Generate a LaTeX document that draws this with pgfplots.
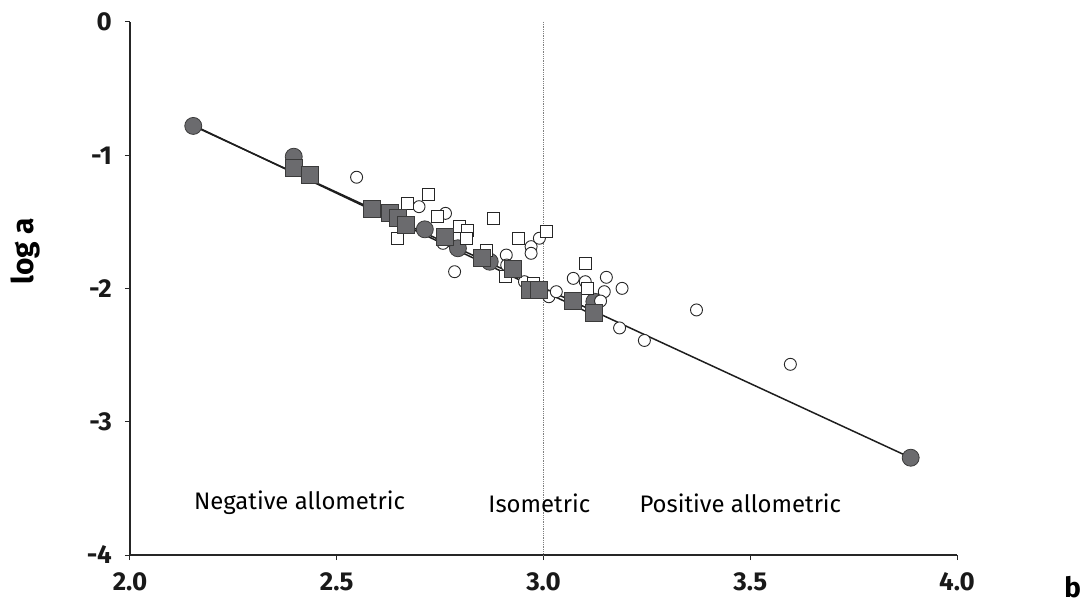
\documentclass[border=0pt]{standalone}
\usepackage{pgfplots}
\pgfplotsset{compat=1.18}
\usepackage{fontspec}
\setmainfont{Fira Sans}
\definecolor{markgray}{HTML}{6B6B6E}
\definecolor{edgegray}{HTML}{3A3A3A}
\definecolor{fitline}{HTML}{1E1E1E}

\begin{document}
\begin{tikzpicture}
\begin{axis}[
  name=ax,
  width=827bp, height=533bp, scale only axis,
  xmin=2, xmax=4, ymin=-4, ymax=0,
  axis x line=bottom, axis y line=left,
  x axis line style={-}, y axis line style={-},
  axis line style={black!85, line width=1.1pt},
  xtick={2,2.5,3,3.5,4}, xticklabels={2.0,2.5,3.0,3.5,4.0},
  ytick={-4,-3,-2,-1,0}, yticklabels={-4,-3,-2,-1,0},
  tick align=outside, major tick length=5bp,
  tick style={black!85, line width=1pt},
  ticklabel style={font=\bfseries\fontsize{26}{26}\selectfont, text=black!90, inner sep=0pt},
  xticklabel style={yshift=-12bp}, yticklabel style={xshift=-13bp},
  clip=false,
]
% isometric reference b = 3
\addplot[gray, densely dotted, line width=0.8pt] coordinates {(3,0) (3,-4)};

% filled circles
\addplot[only marks, mark=*, mark size=8.5bp,
  mark options={fill=markgray, draw=edgegray, line width=0.8pt}] coordinates {
  (2.153,-0.780) (2.396,-1.011) (2.713,-1.556) (2.793,-1.698)
  (2.870,-1.799) (3.123,-2.099) (3.888,-3.270)
};

% open circles
\addplot[only marks, mark=*, mark size=6bp,
  mark options={fill=white, draw=black!85, line width=0.9pt}] coordinates {
  (2.548,-1.165) (2.699,-1.386) (2.763,-1.436) (2.757,-1.661)
  (2.785,-1.874) (2.910,-1.749) (2.911,-1.824) (2.970,-1.686)
  (2.970,-1.736) (2.990,-1.623) (2.954,-1.949) (3.013,-2.062)
  (3.031,-2.024) (3.072,-1.924) (3.101,-1.949) (3.152,-1.916)
  (3.147,-2.024) (3.190,-1.999) (3.138,-2.094) (3.184,-2.296)
  (3.244,-2.390) (3.370,-2.161) (3.597,-2.569)
};

% open squares
\addplot[only marks, mark=square*, mark size=6bp,
  mark options={fill=white, draw=black!85, line width=0.9pt}] coordinates {
  (2.670,-1.361) (2.721,-1.291) (2.646,-1.628) (2.744,-1.461)
  (2.797,-1.536) (2.817,-1.561) (2.813,-1.623) (2.879,-1.478)
  (2.863,-1.716) (2.908,-1.906) (2.940,-1.623) (3.007,-1.574)
  (2.976,-1.961) (3.101,-1.811) (3.107,-1.999)
};

% filled squares
\addplot[only marks, mark=square*, mark size=8.5bp,
  mark options={fill=markgray, draw=edgegray, line width=0.8pt}] coordinates {
  (2.396,-1.098) (2.436,-1.148) (2.586,-1.406) (2.628,-1.436)
  (2.648,-1.473) (2.668,-1.523) (2.761,-1.611) (2.850,-1.773)
  (2.926,-1.851) (2.966,-2.013) (2.990,-2.013) (3.071,-2.092)
  (3.121,-2.186)
};

% fitted lines
\addplot[fitline, line width=1.5pt] coordinates {(2.153,-0.780) (3.888,-3.270)};
\addplot[fitline, line width=1.5pt] coordinates {(2.153,-0.775) (3.115,-2.190)};

\node[font=\fontsize{24}{24}\selectfont] at (axis cs:2.41,-3.61) {Negative allometric};
\node[font=\fontsize{24}{24}\selectfont] at (axis cs:2.99,-3.61) {Isometric};
\node[font=\fontsize{24}{24}\selectfont] at (axis cs:3.476,-3.61) {Positive allometric};

\node[rotate=90, font=\bfseries\fontsize{30}{30}\selectfont] at (rel axis cs:-0.126,0.57) {log a};
\node[inner sep=0pt, font=\bfseries\fontsize{28}{28}\selectfont] at (rel axis cs:1.14,-0.06) {b};
\end{axis}
\pgfresetboundingbox
\path (ax.south west) ++(-130bp,-50bp) coordinate (bl);
\path (ax.north east) ++(134bp,22bp) coordinate (tr);
\path[use as bounding box] (bl) rectangle (tr);
\end{tikzpicture}
\end{document}
